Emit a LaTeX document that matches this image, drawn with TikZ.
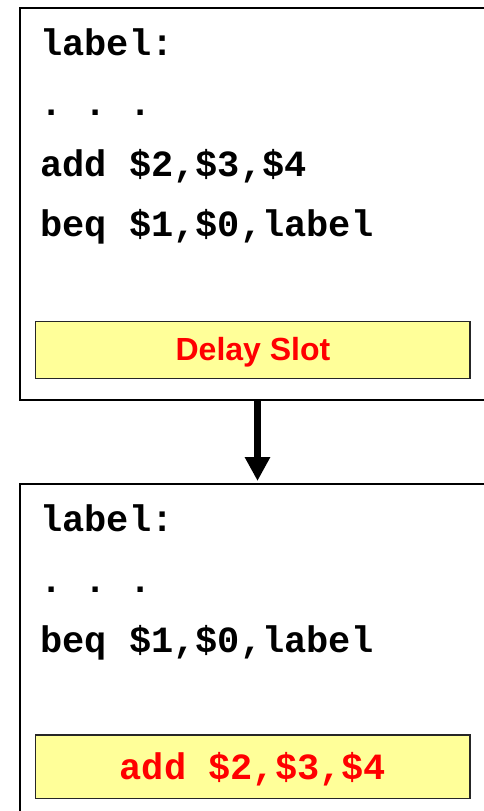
\documentclass[tikz,border=0pt]{standalone}
\usepackage{fontspec}
\setmainfont{Liberation Sans}
\newfontfamily\codefont{Liberation Mono}
\usetikzlibrary{arrows.meta}
\definecolor{slotyellow}{HTML}{FFFF99}
\definecolor{slotred}{HTML}{FF0000}
\tikzset{
  frame/.style={draw=black, line width=2pt, fill=white},
  slot/.style={draw=black!85, line width=1.8pt, fill=slotyellow},
  code/.style={anchor=base west, inner sep=0pt, font=\codefont\bfseries\fontsize{37}{37}\selectfont},
  redcode/.style={inner sep=0pt, text=slotred, font=\codefont\bfseries\fontsize{37}{37}\selectfont},
  redsans/.style={inner sep=0pt, text=slotred, font=\bfseries\fontsize{32}{32}\selectfont},
}
\begin{document}
\begin{tikzpicture}[x=1pt,y=-1pt]
\useasboundingbox (0,0) rectangle (484,811);
\clip (0,0) rectangle (484,811);
% top frame
\draw[frame] (19.5,7.5) rectangle (520,400);
\coordinate (t1) at (257.5,400);
\node[code] (l1) at (40,55) {label:};
\node[code] (l2) at (40,115) {.\ .\ .};
\node[code] (l3) at (40,176) {add \$2,\$3,\$4};
\node[code] (l4) at (40,236) {beq \$1,\$0,label};
\draw[slot] (35.5,321.5) rectangle (470,378.5);
\node[redsans] (ds) at (253,352) {Delay Slot};
% bottom frame
\draw[frame] (20,483.5) rectangle (520,840);
\coordinate (t2) at (257.5,481);
\node[code] (m1) at (40,531) {label:};
\node[code] (m2) at (40,592) {.\ .\ .};
\node[code] (m3) at (40,652) {beq \$1,\$0,label};
\draw[slot] (35.5,735) rectangle (470,798.5);
\node[redcode] (ad) at (253,769) {add \$2,\$3,\$4};
% arrow
\draw[line width=7pt, -{Triangle[width=24pt,length=24pt]}] (t1) -- (t2);
\end{tikzpicture}
\end{document}
